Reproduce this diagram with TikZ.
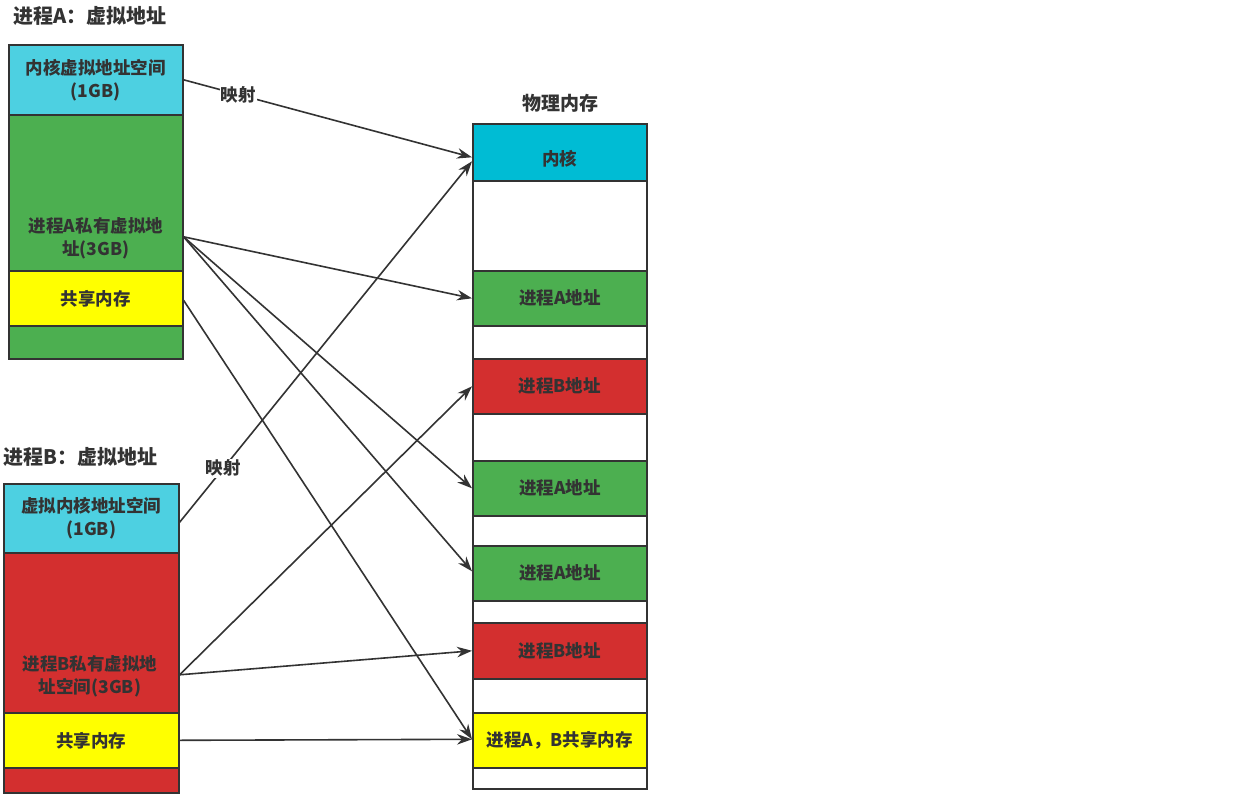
\documentclass[tikz,border=0pt]{standalone}
\usepackage{fontspec}
\setmainfont{Noto Sans CJK SC}
\usetikzlibrary{arrows.meta}
\definecolor{txt}{HTML}{333333}
\definecolor{cyanA}{HTML}{4DD0E1}
\definecolor{cyanK}{HTML}{00BCD4}
\definecolor{grn}{HTML}{4CAF50}
\definecolor{rd}{HTML}{D32F2F}
\definecolor{yel}{HTML}{FFFF00}
\tikzset{
  blk/.style={draw=txt, line width=1.6pt, anchor=north west, inner sep=0pt, align=center,
    text=txt, font=\fontsize{17.5}{23}\selectfont\bfseries},
  blktxt/.style={text=txt, font=\fontsize{17.5}{23}\selectfont\bfseries, align=center, inner sep=0pt},
  ttl/.style={anchor=west, text=txt, inner sep=0pt, font=\fontsize{20}{24}\selectfont\bfseries},
  arr/.style={draw=txt, line width=1.6pt, -{Stealth[length=15pt,width=10.5pt]}},
  lbl/.style={fill=white, text=txt, inner sep=1pt, font=\fontsize{17.5}{21}\selectfont\bfseries}
}
\begin{document}
\begin{tikzpicture}[x=1pt,y=-1pt]
\useasboundingbox[fill=white] (0,0) rectangle (1240,803);
% Process A
\node[ttl] (ta) at (13,16) {进程A：虚拟地址};
\node[blk, fill=grn, minimum width=174pt, minimum height=244pt] (agrn) at (8,114) {};
\node[blk, fill=cyanA, minimum width=174pt, minimum height=70pt] (aker) at (8,44) {内核虚拟地址空间\\(1GB)};
\node[blktxt] (aprv) at (96,238) {进程A私有虚拟地\\址(3GB)};
\node[blk, fill=yel, minimum width=174pt, minimum height=55pt] (ashm) at (8,270) {共享内存};
% Process B
\node[ttl] (tb) at (3,457) {进程B：虚拟地址};
\node[blk, fill=rd, minimum width=175pt, minimum height=240pt] (bred) at (3,552) {};
\node[blk, fill=cyanA, minimum width=175pt, minimum height=69pt] (bker) at (3,483) {虚拟内核地址空间\\(1GB)};
\node[blktxt] (bprv) at (90,676) {进程B私有虚拟地\\址空间(3GB)};
\node[blk, fill=yel, minimum width=175pt, minimum height=55pt] (bshm) at (3,712) {共享内存};
% Physical memory
\node[text=txt, inner sep=0pt, font=\fontsize{19}{23}\selectfont\bfseries] (tp) at (560,103) {物理内存};
\node[blk, fill=white, minimum width=174pt, minimum height=665pt] (pcol) at (472,123) {};
\node[blk, fill=cyanK, minimum width=174pt, minimum height=57pt] (pk) at (472,123) {};
\node[blktxt] (pkt) at ([yshift=-6pt]pk.center) {内核};
\node[blk, fill=grn, minimum width=174pt, minimum height=55pt] (pa1) at (472,270) {进程A地址};
\node[blk, fill=rd, minimum width=174pt, minimum height=55pt] (pb1) at (472,358) {进程B地址};
\node[blk, fill=grn, minimum width=174pt, minimum height=55pt] (pa2) at (472,460) {进程A地址};
\node[blk, fill=grn, minimum width=174pt, minimum height=55pt] (pa3) at (472,545) {进程A地址};
\node[blk, fill=rd, minimum width=174pt, minimum height=56pt] (pb2) at (472,622) {进程B地址};
\node[blk, fill=yel, minimum width=174pt, minimum height=55pt] (psh) at (472,712) {进程A，B共享内存};
% Arrows
\draw[arr] (aker.east) -- node[lbl, pos=0.19] {映射} ([yshift=-5pt]pk.west);
\draw[arr] ([yshift=-4pt]bker.east) -- node[lbl, pos=0.15] {映射} ([yshift=-9pt]pk.west);
\draw[arr] (agrn.east) -- (pa1.west);
\draw[arr] (agrn.east) -- (pa2.west);
\draw[arr] (agrn.east) -- ([yshift=2pt]pa3.west);
\draw[arr] ([yshift=-2pt]ashm.east) -- ([yshift=1pt]psh.west);
\draw[arr] ([yshift=-2pt]bred.east) -- (pb1.west);
\draw[arr] ([yshift=-2pt]bred.east) -- (pb2.west);
\draw[arr] (bshm.east) -- ([yshift=1pt]psh.west);
\end{tikzpicture}
\end{document}
